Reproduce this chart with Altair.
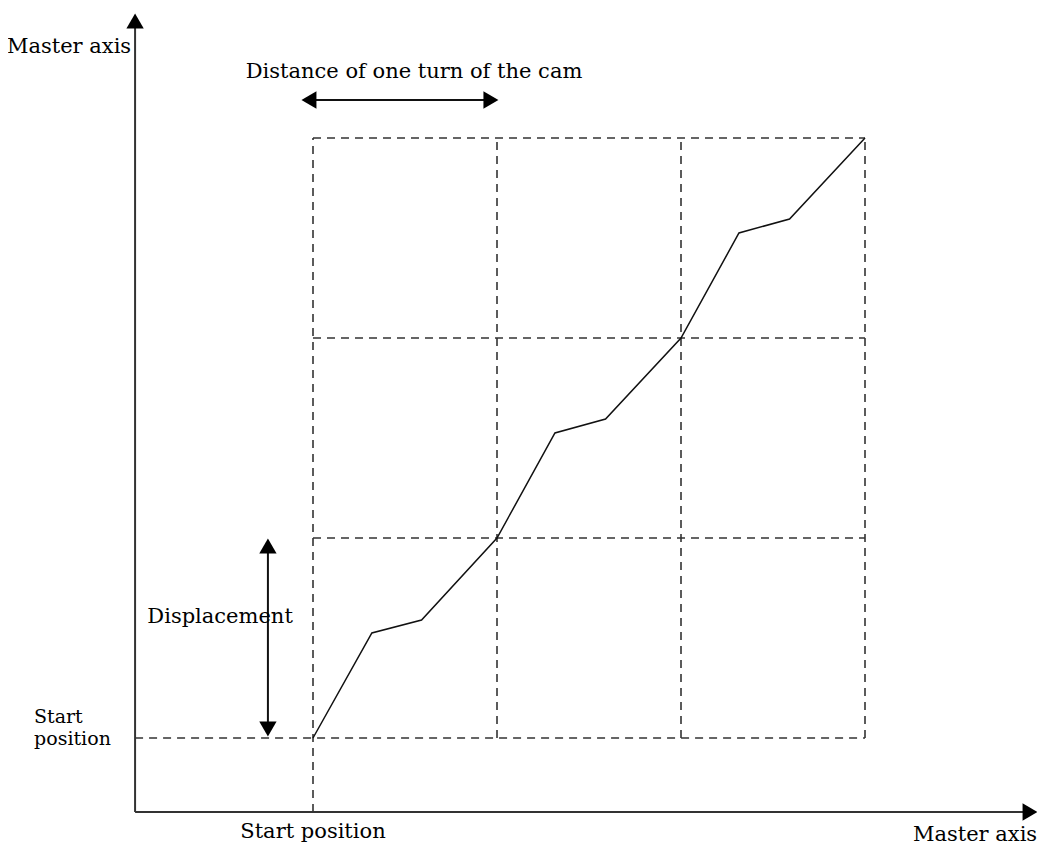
import altair as alt
import pandas as pd

# Cam profile (x in cam turns, y in displacement units)
cam_x = [0, 0.32, 0.59, 1, 1.315, 1.59, 2, 2.315, 2.59, 3]
cam_y = [0, 0.525, 0.59, 1, 1.525, 1.595, 2, 2.525, 2.595, 3]

# Grid (dashed)
grid_turns = [0, 1, 2, 3]
grid_levels = [0, 1, 2, 3]

# Axis extents
axis_x0 = -0.967
axis_y0 = -0.37
axis_x_end = 3.897
axis_y_end = 3.585

W, H = 1029, 837
px0, py0 = 305, 730     # pixel of (0,0) inside view
ux, uy = 184, 200
xdom = [-px0 / ux, (W - px0) / ux]
ydom = [(py0 - H) / uy, py0 / uy]

X = lambda f, **k: alt.X(f, type="quantitative", scale=alt.Scale(domain=xdom, nice=False, zero=False), axis=None, **k)
Y = lambda f, **k: alt.Y(f, type="quantitative", scale=alt.Scale(domain=ydom, nice=False, zero=False), axis=None, **k)

INK = "#333333"
FONT = "DejaVu Serif"

# dashed vertical lines
vdf = pd.DataFrame({"x": grid_turns,
                    "y": [axis_y0 if t == 0 else 0 for t in grid_turns],
                    "y2": [3] * len(grid_turns)})
vlines = alt.Chart(vdf).mark_rule(color=INK, strokeWidth=1.6, strokeDash=[8, 6]).encode(
    x=X("x"), y=Y("y"), y2="y2")

hdf = pd.DataFrame({"y": grid_levels,
                    "x": [axis_x0 if l == 0 else 0 for l in grid_levels],
                    "x2": [3] * len(grid_levels)})
hlines = alt.Chart(hdf).mark_rule(color=INK, strokeWidth=1.6, strokeDash=[8, 6]).encode(
    y=Y("y"), x=X("x"), x2="x2")

# cam curve
cdf = pd.DataFrame({"x": cam_x, "y": cam_y, "o": range(len(cam_x))})
curve = alt.Chart(cdf).mark_line(color="#111111", strokeWidth=1.5).encode(
    x=X("x"), y=Y("y"), order="o")

# axes (solid lines)
adf = pd.DataFrame({"x": [axis_x0, axis_x0], "y": [axis_y0, axis_y0],
                    "x2": [axis_x_end, axis_x0], "y2": [axis_y0, axis_y_end]})
axes = alt.Chart(adf).mark_rule(color=INK, strokeWidth=2).encode(
    x=X("x"), y=Y("y"), x2="x2", y2="y2")

# double arrows
ddf = pd.DataFrame({"x": [-0.022, -0.245], "y": [3.19, 0.045],
                    "x2": [0.967, -0.245], "y2": [3.19, 0.96]})
darrows = alt.Chart(ddf).mark_rule(color="#111111", strokeWidth=2).encode(
    x=X("x"), y=Y("y"), x2="x2", y2="y2")

# arrow heads
hd = pd.DataFrame({
    "x": [axis_x0, axis_x_end, -0.022, 0.967, -0.245, -0.245],
    "y": [axis_y_end, axis_y0, 3.19, 3.19, 0.96, 0.045],
    "shape": ["triangle-up", "triangle-right", "triangle-left", "triangle-right", "triangle-up", "triangle-down"],
})
heads = alt.Chart(hd).mark_point(filled=True, size=300, color="#000000", opacity=1).encode(
    x=X("x"), y=Y("y"), shape=alt.Shape("shape:N", scale=None))

# labels
labels = pd.DataFrame({
    "x": [-1.326, 0.549, -0.505, 0.0, 3.598],
    "y": [3.455, 3.33, 0.605, -0.47, -0.485],
    "t": ["Master axis", "Distance of one turn of the cam", "Displacement", "Start position", "Master axis"],
})
text = alt.Chart(labels).mark_text(font=FONT, fontSize=21, color="#000000", align="center", baseline="middle").encode(
    x=X("x"), y=Y("y"), text="t:N")

sp = pd.DataFrame({"x": [-1.516, -1.516], "y": [0.105, -0.005], "t": ["Start", "position"]})
text2 = alt.Chart(sp).mark_text(font=FONT, fontSize=19, color="#000000", align="left", baseline="middle").encode(
    x=X("x"), y=Y("y"), text="t:N")

chart = alt.layer(vlines, hlines, curve, axes, darrows, heads, text, text2).properties(
    width=W, height=H, padding=0, autosize=alt.AutoSizeParams(type="none")
).configure(background="white", view=alt.ViewConfig(stroke=None))

chart.save("out.html", embed_options={"renderer": "svg", "actions": False})
